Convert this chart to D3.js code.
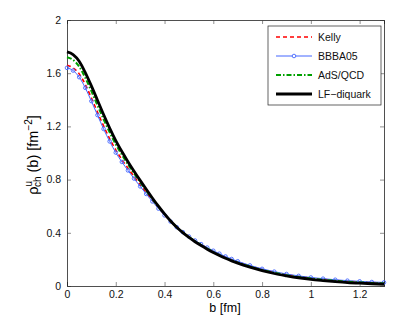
<!DOCTYPE html>
<html>
<head>
<meta charset="utf-8">
<script src="https://cdn.jsdelivr.net/npm/d3@7"></script>
<style>
  body { margin: 0; background: #fff; }
  text { font-family: "Liberation Sans", Arial, sans-serif; }
</style>
</head>
<body>
<script>
// impact parameter b [fm]
var bValues = [0, 0.025, 0.05, 0.075, 0.1, 0.125, 0.15, 0.175, 0.2, 0.225, 0.25, 0.275, 0.3,
               0.325, 0.35, 0.375, 0.4, 0.425, 0.45, 0.475, 0.5, 0.525, 0.55, 0.575, 0.6,
               0.625, 0.65, 0.675, 0.7, 0.75, 0.8, 0.85, 0.9, 0.95, 1.0, 1.05, 1.1, 1.15,
               1.2, 1.25, 1.3];

var kelly = [1.66, 1.64, 1.595, 1.515, 1.415, 1.307, 1.204, 1.107, 1.023, 0.951, 0.885, 0.823, 0.762,
             0.702, 0.644, 0.588, 0.535, 0.486, 0.442, 0.403, 0.369, 0.338, 0.31, 0.284, 0.259,
             0.237, 0.216, 0.197, 0.18, 0.15, 0.124, 0.103, 0.085, 0.071, 0.059, 0.05, 0.042,
             0.035, 0.03, 0.026, 0.022];

var bbba05 = [1.64, 1.62, 1.57, 1.49, 1.39, 1.285, 1.181, 1.087, 1.003, 0.933, 0.869, 0.808, 0.749,
              0.692, 0.636, 0.582, 0.531, 0.484, 0.442, 0.405, 0.372, 0.342, 0.315, 0.289, 0.265,
              0.243, 0.222, 0.203, 0.186, 0.155, 0.129, 0.108, 0.09, 0.076, 0.064, 0.055, 0.047,
              0.04, 0.035, 0.03, 0.027];

var adsqcd = [1.72, 1.70, 1.65, 1.565, 1.465, 1.359, 1.254, 1.155, 1.065, 0.987, 0.915, 0.847, 0.782,
              0.718, 0.656, 0.596, 0.54, 0.489, 0.443, 0.403, 0.368, 0.337, 0.308, 0.281, 0.256,
              0.233, 0.212, 0.193, 0.176, 0.146, 0.12, 0.099, 0.081, 0.067, 0.056, 0.047, 0.039,
              0.032, 0.027, 0.023, 0.019];

var lfDiquark = [1.76, 1.74, 1.69, 1.605, 1.505, 1.397, 1.289, 1.187, 1.093, 1.011, 0.935, 0.863, 0.794,
                 0.727, 0.662, 0.60, 0.542, 0.489, 0.442, 0.401, 0.365, 0.333, 0.304, 0.277, 0.252,
                 0.229, 0.208, 0.189, 0.172, 0.142, 0.116, 0.094, 0.077, 0.062, 0.05, 0.041, 0.033,
                 0.026, 0.021, 0.017, 0.013];

var seriesNames = ["Kelly", "BBBA05", "AdS/QCD", "LF\u2212diquark"];
var xTicks = [0, 0.2, 0.4, 0.6, 0.8, 1, 1.2];
var yTicks = [0, 0.4, 0.8, 1.2, 1.6, 2];

(function() {
  'use strict';

  var width = 409,
      height = 327,
      margin = {left: 67, right: 25, top: 20, bottom: 41};

  var svg = d3.select("body").append("svg")
              .attr("width", width)
              .attr("height", height);

  var x = d3.scaleLinear().domain([0, 1.3]).range([margin.left, width - margin.right]),
      y = d3.scaleLinear().domain([0, 2]).range([height - margin.bottom, margin.top]);

  var styles = [
    {values: kelly,     color: "#ff0000", w: 1.6, dash: "4,3"},
    {values: bbba05,    color: "#4466ff", w: 1,   dash: null, marker: true},
    {values: adsqcd,    color: "#00a000", w: 2,   dash: "5,2,1.5,2"},
    {values: lfDiquark, color: "#000000", w: 2.8, dash: null}
  ];

  var fmt = function(d) { return d === 0 ? "0" : (d % 1 === 0 ? d : d3.format(".1f")(d)); };

  // axes, ticks pointing inward like matlab
  svg.append("g")
     .attr("transform", "translate(0," + y(0) + ")")
     .call(d3.axisBottom(x).tickValues(xTicks).tickSize(-4).tickPadding(5).tickFormat(fmt));
  svg.append("g")
     .attr("transform", "translate(0," + y(2) + ")")
     .call(d3.axisTop(x).tickValues(xTicks).tickSize(-4).tickFormat(""));
  svg.append("g")
     .attr("transform", "translate(" + x(0) + ",0)")
     .call(d3.axisLeft(y).tickValues(yTicks).tickSize(-4).tickPadding(6).tickFormat(fmt));
  svg.append("g")
     .attr("transform", "translate(" + x(1.3) + ",0)")
     .call(d3.axisRight(y).tickValues(yTicks).tickSize(-4).tickFormat(""));

  svg.selectAll(".domain").attr("stroke", "#222").attr("stroke-width", 0.8);
  svg.selectAll(".tick line").attr("stroke", "#444").attr("stroke-width", 0.6);
  svg.selectAll(".tick text")
     .attr("font-family", "Liberation Sans, Arial, sans-serif")
     .attr("font-size", 10.5)
     .attr("fill", "#111");

  var line = d3.line()
               .x(function(d, i) { return x(bValues[i]); })
               .y(function(d) { return y(d); })
               .curve(d3.curveMonotoneX);

  var plot = svg.append("g");

  styles.forEach(function(s) {
    plot.append("path")
        .attr("d", line(s.values))
        .attr("fill", "none")
        .attr("stroke", s.color)
        .attr("stroke-width", s.w)
        .attr("stroke-dasharray", s.dash);
    if (s.marker) {
      plot.selectAll(null).data(s.values).enter()
          .append("circle")
          .attr("cx", function(d, i) { return x(bValues[i]); })
          .attr("cy", function(d) { return y(d); })
          .attr("r", 1.8)
          .attr("fill", "none")
          .attr("stroke", s.color)
          .attr("stroke-width", 0.9);
    }
  });

  // legend
  var lg = svg.append("g").attr("transform", "translate(268,26)");
  lg.append("rect")
    .attr("width", 113).attr("height", 79)
    .attr("fill", "#fff").attr("stroke", "#222").attr("stroke-width", 0.7);

  styles.forEach(function(s, i) {
    var yy = 11 + i * 19;
    lg.append("line")
      .attr("x1", 8).attr("x2", 44).attr("y1", yy).attr("y2", yy)
      .attr("stroke", s.color)
      .attr("stroke-width", s.w)
      .attr("stroke-dasharray", s.dash);
    if (s.marker) {
      lg.append("circle").attr("cx", 26).attr("cy", yy).attr("r", 1.8)
        .attr("fill", "#fff").attr("stroke", s.color).attr("stroke-width", 0.9);
    }
    lg.append("text")
      .attr("x", 50).attr("y", yy + 3.5)
      .attr("font-size", 10.5)
      .attr("fill", "#111")
      .text(seriesNames[i]);
  });

  // axis labels
  svg.append("text")
     .attr("x", 225).attr("y", 312)
     .attr("text-anchor", "middle")
     .attr("font-size", 12.5)
     .text("b [fm]");

  var yl = svg.append("text")
              .attr("transform", "translate(38,155) rotate(-90)")
              .attr("text-anchor", "middle")
              .attr("font-size", 14.5);
  yl.append("tspan").text("\u03C1");
  yl.append("tspan").attr("dy", -6).attr("font-size", 10).text("u");
  yl.append("tspan").attr("dx", -6).attr("dy", 9).attr("font-size", 10).text("ch");
  yl.append("tspan").attr("dy", -3).text(" (b) [fm");
  yl.append("tspan").attr("dy", -6).attr("font-size", 10).text("\u22122");
  yl.append("tspan").attr("dy", 6).text("]");
})();
</script>
</body>
</html>
